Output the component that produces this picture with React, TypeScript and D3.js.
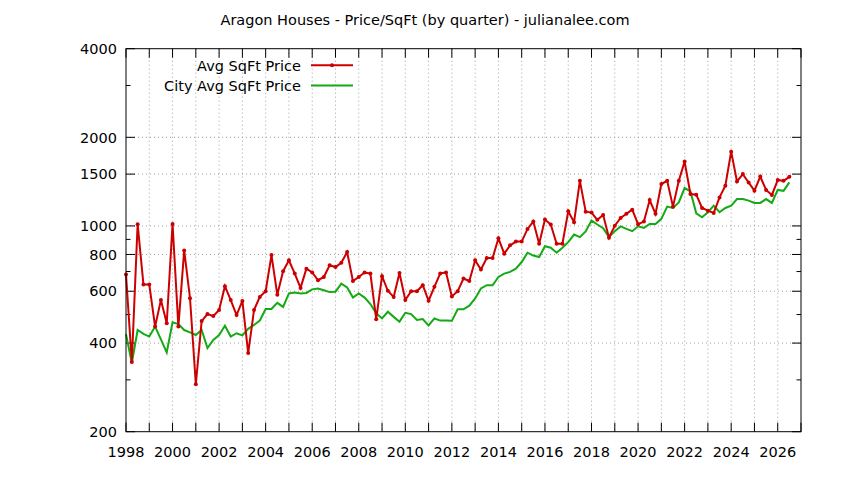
import React from "react";
import * as d3 from "d3";

const W = 844;
const H = 480;
const START_YEAR = 1998;
const TITLE = "Aragon Houses - Price/SqFt (by quarter) - julianalee.com";
const SERIES_NAMES = ["Avg SqFt Price", "City Avg SqFt Price"];

const avgPrice = [
  684, 345, 1014, 632, 632, 455, 560, 467, 1016, 455, 826, 568, 290, 475, 502, 494,
  518, 624, 560, 498, 556, 370, 518, 574, 600, 796, 584, 702, 764, 689, 616, 716,
  695, 654, 671, 735, 725, 750, 815, 650, 671, 695, 689, 482, 675, 602, 574, 692,
  560, 600, 600, 629, 557, 621, 690, 695, 576, 600, 663, 650, 764, 711, 778, 778,
  908, 805, 859, 885, 885, 977, 1035, 870, 1051, 1011, 870, 870, 1122, 1030, 1423, 1118,
  1110, 1049, 1090, 912, 1002, 1065, 1100, 1136, 1014, 1035, 1225, 1099, 1388, 1423, 1163, 1423,
  1654, 1284, 1277, 1151, 1127, 1107, 1250, 1369, 1788, 1416, 1500, 1405, 1318, 1472, 1325, 1274,
  1432, 1423, 1468,
];

const cityAvgPrice = [
  429, 342, 443, 430, 421, 455, 412, 372, 471, 464, 443, 435, 426, 443, 385, 410,
  426, 458, 421, 432, 425, 447, 461, 477, 522, 522, 548, 531, 590, 594, 590, 592,
  609, 613, 605, 596, 598, 637, 618, 571, 590, 571, 543, 505, 485, 511, 491, 473,
  507, 502, 479, 483, 459, 485, 477, 477, 476, 521, 521, 536, 567, 613, 629, 629,
  671, 689, 698, 716, 754, 811, 793, 784, 853, 843, 811, 843, 881, 935, 916, 958,
  1043, 1011, 982, 916, 960, 996, 977, 960, 997, 985, 1016, 1016, 1057, 1163, 1151, 1202,
  1345, 1309, 1104, 1070, 1113, 1172, 1113, 1151, 1172, 1234, 1234, 1219, 1197, 1197, 1234, 1197,
  1325, 1316, 1406,
];

const yMajorTicks = [200, 400, 600, 800, 1000, 1500, 2000, 4000];
const yMinorTicks = [300, 500, 700, 900, 3000];
const xTickYears = d3.range(1998, 2028);
const xLabelYears = d3.range(1998, 2027, 2);

const RED = "#cc0000";
const GREEN = "#14aa14";
const FONT = "'DejaVu Sans', sans-serif";
const FS = 14.5;

export default function App() {
  const left = 126, right = 801, top = 48.7, bottom = 431.7;
  const x = d3.scaleLinear().domain([1998, 2027]).range([left, right]);
  const y = d3.scaleLog().domain([200, 4000]).range([bottom, top]);

  const red = avgPrice.map((v, i) => ({ t: START_YEAR + i * 0.25, v }));
  const green = cityAvgPrice.map((v, i) => ({ t: START_YEAR + i * 0.25, v }));
  const line = d3
    .line<{ t: number; v: number }>()
    .x((d) => x(d.t))
    .y((d) => y(d.v));

  const gridStyle = { stroke: "#a0a0a0", strokeWidth: 1, strokeDasharray: "1,3" };

  return (
    <div style={{ position: "fixed", left: 0, top: 0 }}>
      <svg width={W} height={H} style={{ display: "block", background: "#fff" }} fontFamily={FONT}>
        <rect x={0} y={0} width={W} height={H} fill="#fff" />
        {/* grid */}
        {xTickYears
          .filter((yr) => yr > 1998 && yr < 2027)
          .map((yr) => (
            <line key={"gx" + yr} x1={x(yr)} x2={x(yr)} y1={top} y2={bottom} {...gridStyle} />
          ))}
        {yMajorTicks
          .filter((v) => v > 200 && v < 4000)
          .map((v) => (
            <line key={"gy" + v} x1={left} x2={right} y1={y(v)} y2={y(v)} {...gridStyle} />
          ))}
        {/* ticks */}
        {xTickYears.map((yr) => (
          <g key={"tx" + yr} stroke="#000" strokeWidth={1}>
            <line x1={x(yr)} x2={x(yr)} y1={bottom} y2={bottom - 9} />
            <line x1={x(yr)} x2={x(yr)} y1={top} y2={top + 9} />
          </g>
        ))}
        {yMajorTicks.map((v) => (
          <g key={"ty" + v} stroke="#000" strokeWidth={1}>
            <line x1={left} x2={left + 9} y1={y(v)} y2={y(v)} />
            <line x1={right} x2={right - 9} y1={y(v)} y2={y(v)} />
          </g>
        ))}
        {yMinorTicks.map((v) => (
          <g key={"tmy" + v} stroke="#000" strokeWidth={1}>
            <line x1={left} x2={left + 4.5} y1={y(v)} y2={y(v)} />
            <line x1={right} x2={right - 4.5} y1={y(v)} y2={y(v)} />
          </g>
        ))}
        {/* labels */}
        {xLabelYears.map((yr) => (
          <text key={"lx" + yr} x={x(yr)} y={456.8} textAnchor="middle" fontSize={FS} fill="#000">
            {yr}
          </text>
        ))}
        {yMajorTicks.map((v) => (
          <text key={"ly" + v} x={117} y={y(v) + 5.2} textAnchor="end" fontSize={FS} fill="#000">
            {v}
          </text>
        ))}
        <text x={425} y={25.3} textAnchor="middle" fontSize={FS} fill="#000">
          {TITLE}
        </text>
        {/* series */}
        <path d={line(green) || ""} fill="none" stroke={GREEN} strokeWidth={2} />
        <path d={line(red) || ""} fill="none" stroke={RED} strokeWidth={2} />
        {red.map((d, i) => (
          <circle key={"p" + i} cx={x(d.t)} cy={y(d.v)} r={2} fill={RED} />
        ))}
        {/* legend */}
        <text x={301} y={70.5} textAnchor="end" fontSize={FS} fill="#000">
          {SERIES_NAMES[0]}
        </text>
        <line x1={311} x2={353} y1={65.3} y2={65.3} stroke={RED} strokeWidth={2} />
        <circle cx={332} cy={65.3} r={2} fill={RED} />
        <text x={301} y={90.7} textAnchor="end" fontSize={FS} fill="#000">
          {SERIES_NAMES[1]}
        </text>
        <line x1={311} x2={353} y1={85.5} y2={85.5} stroke={GREEN} strokeWidth={2} />
        {/* border */}
        <rect x={left} y={top} width={right - left} height={bottom - top} fill="none" stroke="#000" strokeWidth={1} />
      </svg>
    </div>
  );
}
